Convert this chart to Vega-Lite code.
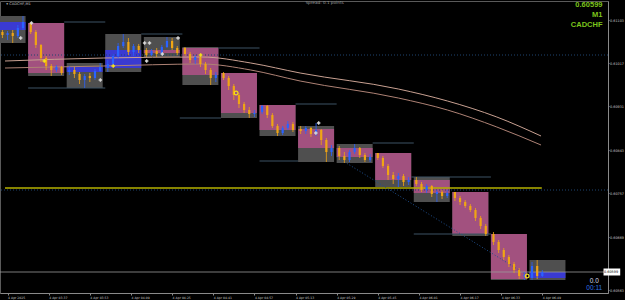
{
  "$schema": "https://vega.github.io/schema/vega-lite/v6.json",
  "width": 608,
  "height": 292,
  "autosize": {"type": "none"},
  "padding": {"left": 0, "top": 1, "right": 17, "bottom": 7},
  "background": "#000000",
  "config": {
    "view": {"stroke": "#5a5a5a", "strokeWidth": 1},
    "axis": {"grid": false, "domainColor": "#8a8a8a", "tickColor": "#8a8a8a", "labelColor": "#c8c8c8", "labelFont": "DejaVu Sans", "labelFontSize": 3.1, "tickSize": 1, "labelPadding": 1, "title": null, "labelOverlap": false}
  },
  "datasets": {
    "boxes": [
      {"s": -7, "e": 7, "hi": 0.61111, "lo": 0.61057, "o": 0.61083, "c": 0.61099},
      {"s": 8, "e": 22, "hi": 0.61097, "lo": 0.60991, "o": 0.61097, "c": 0.60997},
      {"s": 23, "e": 37, "hi": 0.61017, "lo": 0.60967, "o": 0.60999, "c": 0.61009},
      {"s": 38, "e": 52, "hi": 0.61075, "lo": 0.60999, "o": 0.61007, "c": 0.61043},
      {"s": 53, "e": 67, "hi": 0.61069, "lo": 0.61029, "o": 0.61043, "c": 0.61037},
      {"s": 68, "e": 82, "hi": 0.61049, "lo": 0.60973, "o": 0.61047, "c": 0.60993},
      {"s": 83, "e": 97, "hi": 0.60997, "lo": 0.60907, "o": 0.60997, "c": 0.60917},
      {"s": 98, "e": 112, "hi": 0.60933, "lo": 0.60871, "o": 0.60933, "c": 0.60883},
      {"s": 113, "e": 127, "hi": 0.60891, "lo": 0.60819, "o": 0.60885, "c": 0.60847},
      {"s": 128, "e": 142, "hi": 0.60855, "lo": 0.60817, "o": 0.60847, "c": 0.60829},
      {"s": 143, "e": 157, "hi": 0.60837, "lo": 0.60769, "o": 0.60837, "c": 0.60783},
      {"s": 158, "e": 172, "hi": 0.60789, "lo": 0.60739, "o": 0.60783, "c": 0.60757},
      {"s": 173, "e": 187, "hi": 0.60759, "lo": 0.60671, "o": 0.60759, "c": 0.60675},
      {"s": 188, "e": 202, "hi": 0.60675, "lo": 0.60583, "o": 0.60675, "c": 0.60585},
      {"s": 203, "e": 217, "hi": 0.60623, "lo": 0.60583, "o": 0.60587, "c": 0.60599}
    ],
    "candles": [
      {"t": -2, "o": 0.61079, "c": 0.61073, "h": 0.61083, "l": 0.61067},
      {"t": 0, "o": 0.61073, "c": 0.61077, "h": 0.61081, "l": 0.61063},
      {"t": 2, "o": 0.61077, "c": 0.61071, "h": 0.61083, "l": 0.61057},
      {"t": 4, "o": 0.61071, "c": 0.61087, "h": 0.61093, "l": 0.61067},
      {"t": 6, "o": 0.61087, "c": 0.61099, "h": 0.61111, "l": 0.61083},
      {"t": 9, "o": 0.61097, "c": 0.61079, "h": 0.61099, "l": 0.61075},
      {"t": 11, "o": 0.61079, "c": 0.61053, "h": 0.61083, "l": 0.61047},
      {"t": 13, "o": 0.61053, "c": 0.61027, "h": 0.61055, "l": 0.61019},
      {"t": 15, "o": 0.61027, "c": 0.61011, "h": 0.61031, "l": 0.61003},
      {"t": 17, "o": 0.61011, "c": 0.61003, "h": 0.61015, "l": 0.60991},
      {"t": 19, "o": 0.61003, "c": 0.61009, "h": 0.61013, "l": 0.60999},
      {"t": 21, "o": 0.61009, "c": 0.60997, "h": 0.61011, "l": 0.60993},
      {"t": 24, "o": 0.60999, "c": 0.61003, "h": 0.61011, "l": 0.60993},
      {"t": 26, "o": 0.61003, "c": 0.60995, "h": 0.61009, "l": 0.60987},
      {"t": 28, "o": 0.60995, "c": 0.60983, "h": 0.60999, "l": 0.60975},
      {"t": 30, "o": 0.60983, "c": 0.60991, "h": 0.60995, "l": 0.60967},
      {"t": 32, "o": 0.60991, "c": 0.60987, "h": 0.60997, "l": 0.60979},
      {"t": 34, "o": 0.60987, "c": 0.61001, "h": 0.61005, "l": 0.60983},
      {"t": 36, "o": 0.61001, "c": 0.61009, "h": 0.61017, "l": 0.60999},
      {"t": 39, "o": 0.61007, "c": 0.61015, "h": 0.61023, "l": 0.60999},
      {"t": 41, "o": 0.61015, "c": 0.61031, "h": 0.61035, "l": 0.61011},
      {"t": 43, "o": 0.61031, "c": 0.61051, "h": 0.61057, "l": 0.61027},
      {"t": 45, "o": 0.61051, "c": 0.61059, "h": 0.61075, "l": 0.61047},
      {"t": 47, "o": 0.61059, "c": 0.61039, "h": 0.61067, "l": 0.61033},
      {"t": 49, "o": 0.61039, "c": 0.61051, "h": 0.61055, "l": 0.61031},
      {"t": 51, "o": 0.61051, "c": 0.61043, "h": 0.61055, "l": 0.61037},
      {"t": 54, "o": 0.61043, "c": 0.61033, "h": 0.61047, "l": 0.61029},
      {"t": 56, "o": 0.61033, "c": 0.61041, "h": 0.61045, "l": 0.61031},
      {"t": 58, "o": 0.61041, "c": 0.61035, "h": 0.61047, "l": 0.61029},
      {"t": 60, "o": 0.61035, "c": 0.61049, "h": 0.61053, "l": 0.61033},
      {"t": 62, "o": 0.61049, "c": 0.61061, "h": 0.61069, "l": 0.61047},
      {"t": 64, "o": 0.61061, "c": 0.61047, "h": 0.61067, "l": 0.61043},
      {"t": 66, "o": 0.61047, "c": 0.61037, "h": 0.61051, "l": 0.61033},
      {"t": 69, "o": 0.61047, "c": 0.61035, "h": 0.61049, "l": 0.61031},
      {"t": 71, "o": 0.61035, "c": 0.61023, "h": 0.61039, "l": 0.61017},
      {"t": 73, "o": 0.61023, "c": 0.61029, "h": 0.61033, "l": 0.61015},
      {"t": 75, "o": 0.61029, "c": 0.61015, "h": 0.61033, "l": 0.61009},
      {"t": 77, "o": 0.61015, "c": 0.61003, "h": 0.61019, "l": 0.60995},
      {"t": 79, "o": 0.61003, "c": 0.60987, "h": 0.61007, "l": 0.60973},
      {"t": 81, "o": 0.60987, "c": 0.60993, "h": 0.60999, "l": 0.60979},
      {"t": 84, "o": 0.60997, "c": 0.60987, "h": 0.60999, "l": 0.60983},
      {"t": 86, "o": 0.60987, "c": 0.60971, "h": 0.60991, "l": 0.60963},
      {"t": 88, "o": 0.60971, "c": 0.60953, "h": 0.60975, "l": 0.60943},
      {"t": 90, "o": 0.60953, "c": 0.60935, "h": 0.60957, "l": 0.60927},
      {"t": 92, "o": 0.60935, "c": 0.60923, "h": 0.60939, "l": 0.60917},
      {"t": 94, "o": 0.60923, "c": 0.60915, "h": 0.60929, "l": 0.60907},
      {"t": 96, "o": 0.60915, "c": 0.60917, "h": 0.60923, "l": 0.60909},
      {"t": 99, "o": 0.60919, "c": 0.60931, "h": 0.60933, "l": 0.60915},
      {"t": 101, "o": 0.60931, "c": 0.60913, "h": 0.60933, "l": 0.60907},
      {"t": 103, "o": 0.60913, "c": 0.60891, "h": 0.60917, "l": 0.60887},
      {"t": 105, "o": 0.60891, "c": 0.60877, "h": 0.60895, "l": 0.60871},
      {"t": 107, "o": 0.60877, "c": 0.60887, "h": 0.60891, "l": 0.60873},
      {"t": 109, "o": 0.60887, "c": 0.60895, "h": 0.60901, "l": 0.60883},
      {"t": 111, "o": 0.60895, "c": 0.60883, "h": 0.60899, "l": 0.60879},
      {"t": 114, "o": 0.60885, "c": 0.60881, "h": 0.60891, "l": 0.60875},
      {"t": 116, "o": 0.60881, "c": 0.60887, "h": 0.60891, "l": 0.60875},
      {"t": 118, "o": 0.60887, "c": 0.60875, "h": 0.60889, "l": 0.60869},
      {"t": 120, "o": 0.60875, "c": 0.60883, "h": 0.60897, "l": 0.60871},
      {"t": 122, "o": 0.60883, "c": 0.60863, "h": 0.60885, "l": 0.60853},
      {"t": 124, "o": 0.60863, "c": 0.60839, "h": 0.60867, "l": 0.60819},
      {"t": 126, "o": 0.60839, "c": 0.60847, "h": 0.60853, "l": 0.60831},
      {"t": 129, "o": 0.60847, "c": 0.60831, "h": 0.60851, "l": 0.60823},
      {"t": 131, "o": 0.60831, "c": 0.60823, "h": 0.60839, "l": 0.60817},
      {"t": 133, "o": 0.60823, "c": 0.60839, "h": 0.60843, "l": 0.60819},
      {"t": 135, "o": 0.60839, "c": 0.60847, "h": 0.60855, "l": 0.60835},
      {"t": 137, "o": 0.60847, "c": 0.60833, "h": 0.60849, "l": 0.60827},
      {"t": 139, "o": 0.60833, "c": 0.60823, "h": 0.60837, "l": 0.60819},
      {"t": 141, "o": 0.60823, "c": 0.60829, "h": 0.60835, "l": 0.60819},
      {"t": 144, "o": 0.60837, "c": 0.60827, "h": 0.60837, "l": 0.60823},
      {"t": 146, "o": 0.60827, "c": 0.60811, "h": 0.60831, "l": 0.60807},
      {"t": 148, "o": 0.60811, "c": 0.60793, "h": 0.60815, "l": 0.60783},
      {"t": 150, "o": 0.60793, "c": 0.60785, "h": 0.60799, "l": 0.60775},
      {"t": 152, "o": 0.60785, "c": 0.60791, "h": 0.60797, "l": 0.60769},
      {"t": 154, "o": 0.60791, "c": 0.60779, "h": 0.60795, "l": 0.60771},
      {"t": 156, "o": 0.60779, "c": 0.60783, "h": 0.60789, "l": 0.60773},
      {"t": 159, "o": 0.60783, "c": 0.60775, "h": 0.60789, "l": 0.60771},
      {"t": 161, "o": 0.60775, "c": 0.60763, "h": 0.60779, "l": 0.60759},
      {"t": 163, "o": 0.60763, "c": 0.60771, "h": 0.60775, "l": 0.60757},
      {"t": 165, "o": 0.60771, "c": 0.60755, "h": 0.60773, "l": 0.60749},
      {"t": 167, "o": 0.60755, "c": 0.60759, "h": 0.60763, "l": 0.60739},
      {"t": 169, "o": 0.60759, "c": 0.60751, "h": 0.60763, "l": 0.60745},
      {"t": 171, "o": 0.60751, "c": 0.60757, "h": 0.60763, "l": 0.60747},
      {"t": 174, "o": 0.60759, "c": 0.60747, "h": 0.60759, "l": 0.60741},
      {"t": 176, "o": 0.60747, "c": 0.60739, "h": 0.60751, "l": 0.60733},
      {"t": 178, "o": 0.60739, "c": 0.60731, "h": 0.60743, "l": 0.60727},
      {"t": 180, "o": 0.60731, "c": 0.60723, "h": 0.60735, "l": 0.60719},
      {"t": 182, "o": 0.60723, "c": 0.60707, "h": 0.60727, "l": 0.60701},
      {"t": 184, "o": 0.60707, "c": 0.60691, "h": 0.60711, "l": 0.60685},
      {"t": 186, "o": 0.60691, "c": 0.60675, "h": 0.60695, "l": 0.60671},
      {"t": 189, "o": 0.60675, "c": 0.60659, "h": 0.60679, "l": 0.60653},
      {"t": 191, "o": 0.60659, "c": 0.60643, "h": 0.60663, "l": 0.60637},
      {"t": 193, "o": 0.60643, "c": 0.60629, "h": 0.60647, "l": 0.60623},
      {"t": 195, "o": 0.60629, "c": 0.60615, "h": 0.60633, "l": 0.60609},
      {"t": 197, "o": 0.60615, "c": 0.60603, "h": 0.60619, "l": 0.60597},
      {"t": 199, "o": 0.60603, "c": 0.60591, "h": 0.60607, "l": 0.60585},
      {"t": 201, "o": 0.60591, "c": 0.60593, "h": 0.60599, "l": 0.60583},
      {"t": 204, "o": 0.60587, "c": 0.60611, "h": 0.60619, "l": 0.60583},
      {"t": 206, "o": 0.60611, "c": 0.60591, "h": 0.60623, "l": 0.60585},
      {"t": 208, "o": 0.60591, "c": 0.60599, "h": 0.60603, "l": 0.60589}
    ],
    "levels": [
      {"t1": 22, "t2": 38, "p": 0.61099},
      {"t1": 8, "t2": 38, "p": 0.60967},
      {"t1": 52, "t2": 68, "p": 0.61075},
      {"t1": 82, "t2": 98, "p": 0.61047},
      {"t1": 67, "t2": 83, "p": 0.60907},
      {"t1": 112, "t2": 128, "p": 0.60935},
      {"t1": 98, "t2": 113, "p": 0.60821},
      {"t1": 142, "t2": 158, "p": 0.60857},
      {"t1": 157, "t2": 188, "p": 0.60789},
      {"t1": 158, "t2": 188, "p": 0.60675}
    ],
    "ma": [
      {"ma": "a", "t": -1, "p": 0.61021}, {"ma": "a", "t": 37.3, "p": 0.61027}, {"ma": "a", "t": 75.5, "p": 0.61029}, {"ma": "a", "t": 94.6, "p": 0.61017}, {"ma": "a", "t": 113.8, "p": 0.60997}, {"ma": "a", "t": 152, "p": 0.60965}, {"ma": "a", "t": 171.1, "p": 0.60941}, {"ma": "a", "t": 190.3, "p": 0.60909}, {"ma": "a", "t": 207.5, "p": 0.60871},
      {"ma": "b", "t": -1, "p": 0.61007}, {"ma": "b", "t": 37.3, "p": 0.61011}, {"ma": "b", "t": 75.5, "p": 0.61015}, {"ma": "b", "t": 94.6, "p": 0.61003}, {"ma": "b", "t": 113.8, "p": 0.60981}, {"ma": "b", "t": 152, "p": 0.60947}, {"ma": "b", "t": 171.1, "p": 0.60923}, {"ma": "b", "t": 190.3, "p": 0.60889}, {"ma": "b", "t": 207.5, "p": 0.60853}
    ]
  },
  "layer": [
    {
      "data": {"name": "boxes"},
      "mark": {"type": "rect", "clip": true, "color": "#4f4f4f"},
      "encoding": {
        "x": {"field": "s", "type": "quantitative", "scale": {"domain": [-1, 231.6], "nice": false, "zero": false},
          "axis": {"values": [0, 8, 16, 24, 32, 40, 48, 56, 64, 72, 80, 88, 96, 104, 112, 120, 128, 136, 144, 152, 160, 168, 176, 184, 192, 200, 208], "labelAlign": "left", "labelFontSize": 3.1, "labelOverlap": false, "labelBound": false, "labelFlush": false, "tickSize": 2,
            "labelExpr": "datum.value == 0 ? '4 Apr 2025' : timeFormat(datetime(2025, 3, 4, 3, 21 + datum.value), '%-d %b %H:%M')"}},
        "x2": {"field": "e"},
        "y": {"field": "hi", "type": "quantitative", "scale": {"domain": [0.60557, 0.61141], "nice": false, "zero": false},
          "axis": {"orient": "right", "format": ".5f", "labelOverlap": false, "labelBound": false, "labelFlush": false, "tickSize": 1, "labelPadding": 0.5, "labelFontSize": 3.4,
            "values": [0.61123, 0.61103, 0.61081, 0.61059, 0.61039, 0.61017, 0.60995, 0.60975, 0.60953, 0.60931, 0.60909, 0.60887, 0.60865, 0.60843, 0.60821, 0.60801, 0.60779, 0.60757, 0.60735, 0.60713, 0.60691, 0.60669, 0.60647, 0.60627, 0.60583, 0.60563]}},
        "y2": {"field": "lo"}
      }
    },
    {
      "data": {"name": "boxes"},
      "mark": {"type": "rect", "clip": true},
      "encoding": {
        "x": {"field": "s", "type": "quantitative", "scale": {"domain": [-1, 231.6], "nice": false, "zero": false}},
        "x2": {"field": "e"},
        "y": {"field": "o", "type": "quantitative", "scale": {"domain": [0.60557, 0.61141], "nice": false, "zero": false}},
        "y2": {"field": "c"},
        "color": {"condition": {"test": "datum.c > datum.o", "value": "#3a3ad2"}, "value": "#a2517f"}
      }
    },
    {
      "data": {"name": "levels"},
      "mark": {"type": "rule", "color": "#3d5264", "strokeWidth": 1},
      "encoding": {
        "x": {"field": "t1", "type": "quantitative", "scale": {"domain": [-1, 231.6], "nice": false, "zero": false}},
        "x2": {"field": "t2"},
        "y": {"field": "p", "type": "quantitative", "scale": {"domain": [0.60557, 0.61141], "nice": false, "zero": false}}
      }
    },
    {
      "data": {"values": [{"p": 0.61033}, {"p": 0.60763}]},
      "mark": {"type": "rule", "color": "#1e4470", "strokeWidth": 1, "strokeDash": [1, 2]},
      "encoding": {
        "y": {"field": "p", "type": "quantitative", "scale": {"domain": [0.60557, 0.61141], "nice": false, "zero": false}}
      }
    },
    {
      "data": {"values": [{"t1": -1, "t2": 207.8, "p": 0.60767}]},
      "mark": {"type": "rule", "color": "#b4b000", "strokeWidth": 1.5},
      "encoding": {
        "x": {"field": "t1", "type": "quantitative", "scale": {"domain": [-1, 231.6], "nice": false, "zero": false}},
        "x2": {"field": "t2"},
        "y": {"field": "p", "type": "quantitative", "scale": {"domain": [0.60557, 0.61141], "nice": false, "zero": false}}
      }
    },
    {
      "data": {"values": [{"t": 128, "p": 0.60829}, {"t": 202, "p": 0.60593}]},
      "mark": {"type": "line", "color": "#1f5090", "strokeWidth": 1, "strokeDash": [1, 2]},
      "encoding": {
        "x": {"field": "t", "type": "quantitative", "scale": {"domain": [-1, 231.6], "nice": false, "zero": false}},
        "y": {"field": "p", "type": "quantitative", "scale": {"domain": [0.60557, 0.61141], "nice": false, "zero": false}}
      }
    },
    {
      "data": {"name": "ma"},
      "mark": {"type": "line", "strokeWidth": 1, "interpolate": "monotone"},
      "encoding": {
        "x": {"field": "t", "type": "quantitative", "scale": {"domain": [-1, 231.6], "nice": false, "zero": false}},
        "y": {"field": "p", "type": "quantitative", "scale": {"domain": [0.60557, 0.61141], "nice": false, "zero": false}},
        "color": {"field": "ma", "type": "nominal", "scale": {"domain": ["a", "b"], "range": ["#c9a192", "#ae8275"]}, "legend": null}
      }
    },
    {
      "data": {"values": [{"p": 0.60599}]},
      "mark": {"type": "rule", "color": "#9a9a9a", "strokeWidth": 0.8},
      "encoding": {
        "y": {"field": "p", "type": "quantitative", "scale": {"domain": [0.60557, 0.61141], "nice": false, "zero": false}}
      }
    },
    {
      "data": {"name": "candles"},
      "mark": {"type": "rule", "clip": true, "strokeWidth": 0.8},
      "encoding": {
        "x": {"field": "t", "type": "quantitative", "scale": {"domain": [-1, 231.6], "nice": false, "zero": false}},
        "y": {"field": "l", "type": "quantitative", "scale": {"domain": [0.60557, 0.61141], "nice": false, "zero": false}},
        "y2": {"field": "h"},
        "color": {"condition": {"test": "datum.c > datum.o", "value": "#2a62ff"}, "value": "#f0a514"}
      }
    },
    {
      "data": {"name": "candles"},
      "mark": {"type": "bar", "clip": true, "orient": "vertical", "size": 2.2},
      "encoding": {
        "x": {"field": "t", "type": "quantitative", "scale": {"domain": [-1, 231.6], "nice": false, "zero": false}},
        "y": {"field": "o", "type": "quantitative", "scale": {"domain": [0.60557, 0.61141], "nice": false, "zero": false}},
        "y2": {"field": "c"},
        "color": {"condition": {"test": "datum.c > datum.o", "value": "#2a62ff"}, "value": "#f0a514"}
      }
    },
    {
      "data": {"values": [{"t": 5.1, "p": 0.61067}, {"t": 9.3, "p": 0.61097}, {"t": 36.1, "p": 0.60983}, {"t": 53.3, "p": 0.61057}, {"t": 55.2, "p": 0.61057}, {"t": 54.1, "p": 0.61021}, {"t": 60.2, "p": 0.61035}, {"t": 66.3, "p": 0.61067}, {"t": 121, "p": 0.60897}, {"t": 119.9, "p": 0.60877}]},
      "mark": {"type": "point", "shape": "cross", "filled": true, "size": 12, "color": "#d8d8d8", "opacity": 1},
      "encoding": {
        "x": {"field": "t", "type": "quantitative", "scale": {"domain": [-1, 231.6], "nice": false, "zero": false}},
        "y": {"field": "p", "type": "quantitative", "scale": {"domain": [0.60557, 0.61141], "nice": false, "zero": false}}
      }
    },
    {
      "data": {"values": [{"t": 14.3, "p": 0.61021}, {"t": 41.1, "p": 0.61011}, {"t": 75.1, "p": 0.61033}]},
      "mark": {"type": "point", "shape": "cross", "filled": true, "size": 14, "color": "#f4e21a", "opacity": 1},
      "encoding": {
        "x": {"field": "t", "type": "quantitative", "scale": {"domain": [-1, 231.6], "nice": false, "zero": false}},
        "y": {"field": "p", "type": "quantitative", "scale": {"domain": [0.60557, 0.61141], "nice": false, "zero": false}}
      }
    },
    {
      "data": {"values": [{"t": 88.9, "p": 0.60957}, {"t": 202.1, "p": 0.60591}]},
      "mark": {"type": "point", "shape": "circle", "filled": false, "size": 14, "strokeWidth": 1.2, "color": "#f4e21a", "opacity": 1},
      "encoding": {
        "x": {"field": "t", "type": "quantitative", "scale": {"domain": [-1, 231.6], "nice": false, "zero": false}},
        "y": {"field": "p", "type": "quantitative", "scale": {"domain": [0.60557, 0.61141], "nice": false, "zero": false}}
      }
    },
    {
      "data": {"values": [{"txt": "0.60599", "t": 231.4, "p": 0.61133}, {"txt": "M1", "t": 231.4, "p": 0.61114}, {"txt": "CADCHF", "t": 231.4, "p": 0.61094}]},
      "mark": {"type": "text", "align": "right", "baseline": "middle", "font": "Liberation Sans", "fontWeight": "bold", "fontSize": 7.5, "color": "#7cc41c"},
      "encoding": {
        "x": {"field": "t", "type": "quantitative", "scale": {"domain": [-1, 231.6], "nice": false, "zero": false}},
        "y": {"field": "p", "type": "quantitative", "scale": {"domain": [0.60557, 0.61141], "nice": false, "zero": false}},
        "text": {"field": "txt"}
      }
    },
    {
      "data": {"values": [{"txt": "0.0", "t": 228.2, "p": 0.60582}]},
      "mark": {"type": "text", "align": "center", "baseline": "middle", "font": "Liberation Sans", "fontSize": 6.5, "color": "#d0d8e8"},
      "encoding": {
        "x": {"field": "t", "type": "quantitative", "scale": {"domain": [-1, 231.6], "nice": false, "zero": false}},
        "y": {"field": "p", "type": "quantitative", "scale": {"domain": [0.60557, 0.61141], "nice": false, "zero": false}},
        "text": {"field": "txt"}
      }
    },
    {
      "data": {"values": [{"txt": "00:11", "t": 228.2, "p": 0.60567}]},
      "mark": {"type": "text", "align": "center", "baseline": "middle", "font": "Liberation Sans", "fontSize": 6.5, "color": "#2f72e8"},
      "encoding": {
        "x": {"field": "t", "type": "quantitative", "scale": {"domain": [-1, 231.6], "nice": false, "zero": false}},
        "y": {"field": "p", "type": "quantitative", "scale": {"domain": [0.60557, 0.61141], "nice": false, "zero": false}},
        "text": {"field": "txt"}
      }
    },
    {
      "data": {"values": [{"txt": "Spread: 0.1 points", "t": 123.3, "p": 0.61137}]},
      "mark": {"type": "text", "align": "center", "baseline": "middle", "font": "DejaVu Sans", "fontSize": 4.2, "color": "#9a9a9a"},
      "encoding": {
        "x": {"field": "t", "type": "quantitative", "scale": {"domain": [-1, 231.6], "nice": false, "zero": false}},
        "y": {"field": "p", "type": "quantitative", "scale": {"domain": [0.60557, 0.61141], "nice": false, "zero": false}},
        "text": {"field": "txt"}
      }
    },
    {
      "data": {"values": [{"txt": "▾ CADCHF,M1", "t": -0.5, "p": 0.61136}]},
      "mark": {"type": "text", "align": "left", "baseline": "middle", "font": "DejaVu Sans", "fontSize": 3.6, "color": "#c8c8c8"},
      "encoding": {
        "x": {"field": "t", "type": "quantitative", "scale": {"domain": [-1, 231.6], "nice": false, "zero": false}},
        "y": {"field": "p", "type": "quantitative", "scale": {"domain": [0.60557, 0.61141], "nice": false, "zero": false}},
        "text": {"field": "txt"}
      }
    },
    {
      "data": {"values": [{"t1": 231.8, "t2": 238.3, "p1": 0.60606, "p2": 0.60592}]},
      "mark": {"type": "rect", "color": "#ffffff"},
      "encoding": {
        "x": {"field": "t1", "type": "quantitative", "scale": {"domain": [-1, 231.6], "nice": false, "zero": false}},
        "x2": {"field": "t2"},
        "y": {"field": "p1", "type": "quantitative", "scale": {"domain": [0.60557, 0.61141], "nice": false, "zero": false}},
        "y2": {"field": "p2"}
      }
    },
    {
      "data": {"values": [{"txt": "0.60599", "t": 232.0, "p": 0.60599}]},
      "mark": {"type": "text", "align": "left", "baseline": "middle", "font": "DejaVu Sans", "fontSize": 3.4, "color": "#000000"},
      "encoding": {
        "x": {"field": "t", "type": "quantitative", "scale": {"domain": [-1, 231.6], "nice": false, "zero": false}},
        "y": {"field": "p", "type": "quantitative", "scale": {"domain": [0.60557, 0.61141], "nice": false, "zero": false}},
        "text": {"field": "txt"}
      }
    }
  ]
}
